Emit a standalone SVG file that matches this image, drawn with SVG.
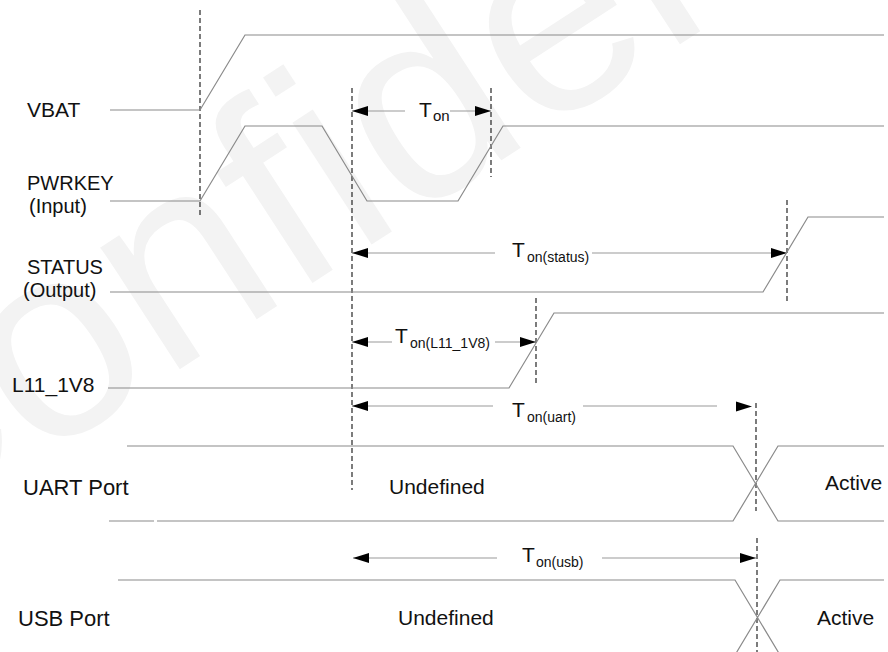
<svg xmlns="http://www.w3.org/2000/svg" width="888" height="652" viewBox="0 0 888 652">
<defs>
<style>
.sig{fill:none;stroke:#8a8a8a;stroke-width:1.2}
.dash{fill:none;stroke:#111;stroke-width:1.1;stroke-dasharray:5,3}
.arr{fill:none;stroke:#9a9a9a;stroke-width:1.2}
.lbl{font-family:"Liberation Sans",Arial,sans-serif;font-size:21px;fill:#111}
.sm{font-size:20px}
.sub{font-family:"Liberation Sans",Arial,sans-serif;font-size:14px;fill:#111}
.wm{font-family:"Liberation Sans",Arial,sans-serif;font-size:275px;fill:#f3f3f3}
</style>
<marker id="ah" markerUnits="userSpaceOnUse" markerWidth="16" markerHeight="10" refX="16" refY="5" orient="auto-start-reverse" viewBox="0 0 16 10">
<path d="M0,0 L16,5 L0,10 z" fill="#000"/>
</marker>
</defs>
<rect width="888" height="652" fill="#fff"/>
<text class="wm" x="-131" y="571" transform="rotate(-33 -131 571)">Confidential</text>

<g id="connectors">
<path class="dash" d="M200,10 V218"/>
<path class="dash" d="M352,88 V490"/>
<path class="dash" d="M491,88 V177"/>
<path class="dash" d="M787,200 V304"/>
<path class="dash" d="M536,298 V386"/>
<path class="dash" d="M756,403 V511"/>
<path class="dash" d="M757,538 V652"/>
<path class="arr" d="M405,111 H352" marker-end="url(#ah)"/>
<path class="arr" d="M450,111 H491" marker-end="url(#ah)"/>
<path class="arr" d="M495,253 H352" marker-end="url(#ah)"/>
<path class="arr" d="M592,253 H787" marker-end="url(#ah)"/>
<path class="arr" d="M392,342 H352" marker-end="url(#ah)"/>
<path class="arr" d="M495,342 H536" marker-end="url(#ah)"/>
<path class="arr" d="M493,406 H352" marker-end="url(#ah)"/>
<path class="arr" d="M583,406 H717"/>
<path d="M736,401.5 L752,406.5 L736,411.5 z" fill="#000"/>
<path class="arr" d="M497,558 H353" marker-end="url(#ah)"/>
<path class="arr" d="M602,558 H756" marker-end="url(#ah)"/>
</g>

<g id="vbat">
<text class="lbl" x="27" y="117">VBAT</text>
<path class="sig" d="M110,110 H200 L245,35 H884"/>
</g>
<g id="pwrkey">
<text class="lbl sm" x="27" y="190">PWRKEY</text>
<text class="lbl sm" x="29" y="213">(Input)</text>
<path class="sig" d="M110,201 H200 L245,126 H322 L367,201 H458 L503,126 H884"/>
</g>
<g id="status">
<text class="lbl sm" x="27" y="274">STATUS</text>
<text class="lbl sm" x="23" y="297">(Output)</text>
<path class="sig" d="M110,292 H763 L808,217 H884"/>
</g>
<g id="l11_1v8">
<text class="lbl" x="12" y="392">L11_1V8</text>
<path class="sig" d="M108,388 H509 L554,313 H884"/>
</g>
<g id="uart">
<text class="lbl" x="23" y="495" style="font-size:22px">UART Port</text>
<path class="sig" d="M127,446 H733 L778,521 H884"/>
<path class="sig" d="M109,521 H154 M157,521 H733 L778,446 H884"/>
<text class="lbl" x="389" y="494">Undefined</text>
<text class="lbl" x="825" y="490">Active</text>
</g>
<g id="usb">
<text class="lbl" x="18" y="626" style="font-size:22px">USB Port</text>
<path class="sig" d="M118,580 H735 L780,655 M735,655 L780,580 H884"/>
<text class="lbl" x="398" y="625">Undefined</text>
<text class="lbl" x="817" y="625">Active</text>
</g>

<g id="t_on">
<text class="lbl" x="419" y="117">T</text><text class="sub" x="433" y="121" style="font-size:15px">on</text>
</g>
<g id="t_on_status">
<text class="lbl" x="512" y="257">T</text><text class="sub" x="527" y="262">on(status)</text>
</g>
<g id="t_on_l11">
<text class="lbl" x="395" y="343">T</text><text class="sub" x="410" y="348">on(L11_1V8)</text>
</g>
<g id="t_on_uart">
<text class="lbl" x="512" y="417">T</text><text class="sub" x="527" y="422">on(uart)</text>
</g>
<g id="t_on_usb">
<text class="lbl" x="522" y="562">T</text><text class="sub" x="536" y="567">on(usb)</text>
</g>
</svg>
